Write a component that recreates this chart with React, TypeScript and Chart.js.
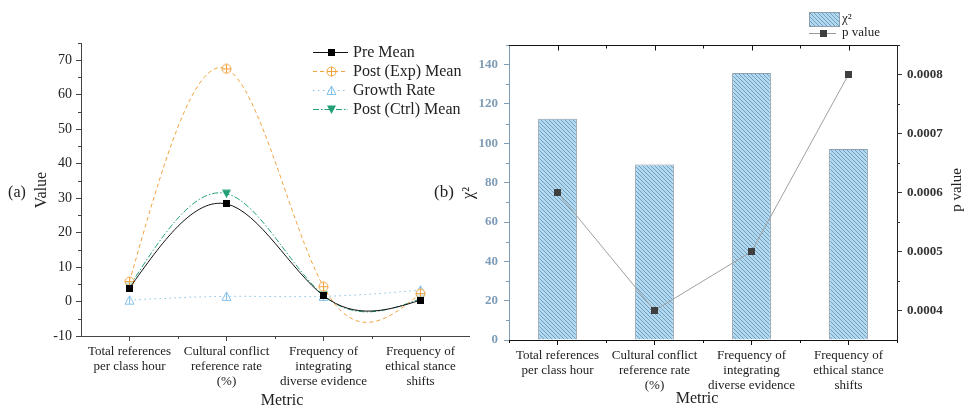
import React, { useEffect, useRef } from 'react';
import { Chart, registerables } from 'chart.js';

Chart.register(...registerables);

// ---------- data ----------
const categories: string[][] = [
  ['Total references', 'per class hour'],
  ['Cultural conflict', 'reference rate', '(%)'],
  ['Frequency of', 'integrating', 'diverse evidence'],
  ['Frequency of', 'ethical stance', 'shifts'],
];
const preMean = [3.9, 28.3, 1.7, 0.4];
const postExpMean = [5.8, 67.5, 4.3, 2.3];
const growthRate = [0.4, 1.5, 1.5, 3.3];
const postCtrlMean = [4.4, 31.3, 1.8, 0.8];

const chiSquare = [112.5, 89.3, 135.8, 97.1];
const pValue = [0.0006, 0.0004, 0.0005, 0.0008];

const valueTicks = [-10, 0, 10, 20, 30, 40, 50, 60, 70];
const valueMinorTicks = [-5, 5, 15, 25, 35, 45, 55, 65, 75];
const chiTicks = [0, 20, 40, 60, 80, 100, 120, 140];
const chiMinorTicks = [10, 30, 50, 70, 90, 110, 130, 150];
const pTicks = [0.0004, 0.0005, 0.0006, 0.0007, 0.0008];
const pMinorTicks = [0.00045, 0.00055, 0.00065, 0.00075, 0.00085];

// ---------- style ----------
const SERIF = '"Liberation Serif", "Times New Roman", serif';
const ORANGE = '#F2A33F';
const LBLUE = '#86C2EA';
const GREEN = '#23A077';
const AXIS_A = '#444';
const TEXT = '#222';
const BLUEGRAY = '#7f9cb6';

function makeCanvas(w: number, h: number, draw: (ctx: CanvasRenderingContext2D) => void) {
  const c = document.createElement('canvas');
  c.width = w;
  c.height = h;
  const ctx = c.getContext('2d')!;
  draw(ctx);
  return c;
}

function makeMarkers() {
  const square = makeCanvas(7, 7, (ctx) => {
    ctx.fillStyle = '#000';
    ctx.fillRect(0, 0, 7, 7);
  });
  const circlePlus = makeCanvas(11, 11, (ctx) => {
    ctx.strokeStyle = ORANGE;
    ctx.lineWidth = 1;
    ctx.fillStyle = 'rgba(255,255,255,0.7)';
    ctx.beginPath();
    ctx.arc(5.5, 5.5, 4.5, 0, Math.PI * 2);
    ctx.fill();
    ctx.stroke();
    ctx.beginPath();
    ctx.moveTo(5.5, 1);
    ctx.lineTo(5.5, 10);
    ctx.moveTo(1, 5.5);
    ctx.lineTo(10, 5.5);
    ctx.stroke();
  });
  const triUp = makeCanvas(11, 11, (ctx) => {
    ctx.strokeStyle = LBLUE;
    ctx.lineWidth = 1;
    ctx.fillStyle = 'rgba(255,255,255,0.7)';
    ctx.beginPath();
    ctx.moveTo(5.5, 1);
    ctx.lineTo(10, 9.5);
    ctx.lineTo(1, 9.5);
    ctx.closePath();
    ctx.fill();
    ctx.stroke();
    ctx.beginPath();
    ctx.moveTo(5.5, 1);
    ctx.lineTo(5.5, 9.5);
    ctx.stroke();
  });
  const triDown = makeCanvas(11, 11, (ctx) => {
    ctx.fillStyle = GREEN;
    ctx.beginPath();
    ctx.moveTo(1, 1.5);
    ctx.lineTo(10, 1.5);
    ctx.lineTo(5.5, 10);
    ctx.closePath();
    ctx.fill();
  });
  const darkSquare = makeCanvas(7, 7, (ctx) => {
    ctx.fillStyle = '#3f3f3f';
    ctx.fillRect(0, 0, 7, 7);
  });
  return { square, circlePlus, triUp, triDown, darkSquare };
}

function makeHatch(ctx: CanvasRenderingContext2D) {
  const c = makeCanvas(4, 4, (g) => {
    g.fillStyle = '#b3d9ef';
    g.fillRect(0, 0, 4, 4);
    g.fillStyle = '#6e9ec3';
    for (let i = 0; i < 4; i++) g.fillRect(i, i, 1, 1);
  });
  return ctx.createPattern(c, 'repeat')!;
}

// natural cubic spline control points, computed from the library's point pixels
const naturalSplinePlugin = {
  id: 'naturalSpline',
  afterDatasetsUpdate(chart: any) {
    chart.data.datasets.forEach((ds: any, di: number) => {
      if (!ds.naturalSpline) return;
      const meta = chart.getDatasetMeta(di);
      const line = meta.dataset;
      if (!line) return;
      line.updateControlPoints(chart.chartArea, 'x');
      const pts = meta.data as any[];
      const n = pts.length;
      if (n < 3) return;
      const xs = pts.map((p) => p.x);
      const ys = pts.map((p) => p.y);
      const h: number[] = [];
      for (let i = 0; i < n - 1; i++) h.push(xs[i + 1] - xs[i]);
      const M = new Array(n).fill(0);
      const m = n - 2;
      const a: number[] = [], b: number[] = [], c: number[] = [], d: number[] = [];
      for (let k = 0; k < m; k++) {
        const i = k + 1;
        a.push(h[i - 1]);
        b.push(2 * (h[i - 1] + h[i]));
        c.push(h[i]);
        d.push(6 * ((ys[i + 1] - ys[i]) / h[i] - (ys[i] - ys[i - 1]) / h[i - 1]));
      }
      for (let k = 1; k < m; k++) {
        const w = a[k] / b[k - 1];
        b[k] -= w * c[k - 1];
        d[k] -= w * d[k - 1];
      }
      const sol = new Array(m);
      sol[m - 1] = d[m - 1] / b[m - 1];
      for (let k = m - 2; k >= 0; k--) sol[k] = (d[k] - c[k] * sol[k + 1]) / b[k];
      for (let k = 0; k < m; k++) M[k + 1] = sol[k];
      const slope = new Array(n);
      for (let i = 0; i < n - 1; i++) slope[i] = (ys[i + 1] - ys[i]) / h[i] - (h[i] * (2 * M[i] + M[i + 1])) / 6;
      slope[n - 1] = (ys[n - 1] - ys[n - 2]) / h[n - 2] + (h[n - 2] * (M[n - 2] + 2 * M[n - 1])) / 6;
      for (let i = 0; i < n; i++) {
        const p = pts[i];
        const hp = i > 0 ? h[i - 1] : 0;
        const hn = i < n - 1 ? h[i] : 0;
        p.cp1x = xs[i] - hp / 3;
        p.cp1y = ys[i] - (slope[i] * hp) / 3;
        p.cp2x = xs[i] + hn / 3;
        p.cp2y = ys[i] + (slope[i] * hn) / 3;
      }
    });
  },
};

function drawText(ctx: CanvasRenderingContext2D, text: string, x: number, y: number, font: string, color: string, rotate = 0, align: CanvasTextAlign = 'center') {
  ctx.save();
  ctx.font = font;
  ctx.fillStyle = color;
  ctx.textAlign = align;
  ctx.textBaseline = 'middle';
  ctx.translate(x, y);
  if (rotate) ctx.rotate(rotate);
  ctx.fillText(text, 0, 0);
  ctx.restore();
}

function minorY(ctx: CanvasRenderingContext2D, scale: any, values: number[], x: number, dir: number, len: number, color: string) {
  ctx.save();
  ctx.strokeStyle = color;
  ctx.lineWidth = 1;
  ctx.beginPath();
  values.forEach((v) => {
    const y = Math.round(scale.getPixelForValue(v)) + 0.5;
    ctx.moveTo(x, y);
    ctx.lineTo(x + dir * len, y);
  });
  ctx.stroke();
  ctx.restore();
}

function minorX(ctx: CanvasRenderingContext2D, scale: any, count: number, area: any, y: number, dir: number, len: number, color: string, includeEnds: boolean) {
  const xs: number[] = [];
  for (let i = 0; i < count - 1; i++) xs.push((scale.getPixelForValue(i) + scale.getPixelForValue(i + 1)) / 2);
  if (includeEnds) {
    xs.push(area.left);
    xs.push(area.right);
  }
  ctx.save();
  ctx.strokeStyle = color;
  ctx.lineWidth = 1;
  ctx.beginPath();
  xs.forEach((x) => {
    const px = Math.round(x) + 0.5;
    ctx.moveTo(px, y);
    ctx.lineTo(px, y + dir * len);
  });
  ctx.stroke();
  ctx.restore();
}

export default function App() {
  const refA = useRef<HTMLCanvasElement>(null);
  const refB = useRef<HTMLCanvasElement>(null);

  useEffect(() => {
    const mk = makeMarkers();
    const ctxB = refB.current!.getContext('2d')!;
    const hatch = makeHatch(ctxB);

    const seriesA = [
      { label: 'Pre Mean', data: preMean, color: '#111', dash: [] as number[], marker: mk.square },
      { label: 'Post (Exp) Mean', data: postExpMean, color: ORANGE, dash: [4, 3], marker: mk.circlePlus },
      { label: 'Growth Rate', data: growthRate, color: LBLUE, dash: [1.5, 3.5], marker: mk.triUp },
      { label: 'Post (Ctrl) Mean', data: postCtrlMean, color: GREEN, dash: [6, 2, 1.5, 2], marker: mk.triDown },
    ];

    const extrasA = {
      id: 'extrasA',
      afterDraw(chart: any) {
        const ctx = chart.ctx as CanvasRenderingContext2D;
        const area = chart.chartArea;
        const y = chart.scales.y;
        const x = chart.scales.x;
        minorY(ctx, y, valueMinorTicks.filter((v) => v <= y.max), area.left, -1, 3, AXIS_A);
        minorX(ctx, x, categories.length, area, area.bottom, 1, 3, AXIS_A, false);
        // legend
        const rows = [52, 71, 90, 109];
        seriesA.forEach((s, i) => {
          const ry = rows[i] + 0.5;
          ctx.save();
          ctx.strokeStyle = s.color;
          ctx.lineWidth = 1;
          ctx.setLineDash(s.dash);
          ctx.beginPath();
          ctx.moveTo(313, ry);
          ctx.lineTo(348, ry);
          ctx.stroke();
          ctx.restore();
          ctx.drawImage(s.marker, Math.round(331 - s.marker.width / 2), Math.round(ry - s.marker.height / 2));
          drawText(ctx, s.label, 353, rows[i] + 1, `16px ${SERIF}`, TEXT, 0, 'left');
        });
        drawText(ctx, '(a)', 17, 193, `16px ${SERIF}`, TEXT);
        drawText(ctx, 'Value', 42, 190, `16px ${SERIF}`, TEXT, -Math.PI / 2);
        drawText(ctx, 'Metric', 282, 401, `16px ${SERIF}`, TEXT);
      },
    };

    const chartA = new Chart(refA.current!, {
      type: 'line',
      data: {
        labels: categories,
        datasets: seriesA.map((s) => ({
          label: s.label,
          data: s.data,
          borderColor: s.color,
          backgroundColor: s.color,
          borderWidth: 1,
          borderDash: s.dash,
          pointStyle: s.marker,
          pointRadius: 4,
          tension: 0.4,
          fill: false,
          naturalSpline: true,
        })) as any,
      },
      options: {
        responsive: false,
        animation: false,
        layout: { padding: { left: 0, right: 13, top: 43, bottom: 0 } },
        plugins: { legend: { display: false }, tooltip: { enabled: false } },
        scales: {
          x: {
            type: 'category',
            offset: true,
            grid: { display: true, drawOnChartArea: false, drawTicks: true, tickLength: 5, offset: false, color: AXIS_A },
            border: { display: true, color: AXIS_A, width: 1 },
            ticks: { font: { family: SERIF, size: 13, lineHeight: 1.15 }, color: TEXT, padding: 3, maxRotation: 0, autoSkip: false },
            afterFit: (s: any) => { s.height = 69; },
          },
          y: {
            min: -10,
            max: 75,
            grid: { display: true, drawOnChartArea: false, drawTicks: true, tickLength: 5, color: AXIS_A },
            border: { display: true, color: AXIS_A, width: 1 },
            ticks: { font: { family: SERIF, size: 14 }, color: TEXT, padding: 4 },
            afterBuildTicks: (s: any) => { s.ticks = valueTicks.map((v) => ({ value: v })); },
            afterFit: (s: any) => { s.width = 81; },
          },
        },
      } as any,
      plugins: [naturalSplinePlugin, extrasA],
    });

    const OX = 425;
    const extrasB = {
      id: 'extrasB',
      afterDraw(chart: any) {
        const ctx = chart.ctx as CanvasRenderingContext2D;
        const area = chart.chartArea;
        const x = chart.scales.x;
        // top axis
        ctx.save();
        ctx.strokeStyle = '#111';
        ctx.lineWidth = 1;
        ctx.beginPath();
        const ty = Math.round(area.top) + 0.5;
        ctx.moveTo(area.left, ty);
        ctx.lineTo(area.right, ty);
        for (let i = 0; i < categories.length; i++) {
          const px = Math.round(x.getPixelForValue(i)) + 0.5;
          ctx.moveTo(px, ty);
          ctx.lineTo(px, ty + 5);
        }
        ctx.stroke();
        ctx.restore();
        minorX(ctx, x, categories.length, area, ty, 1, 3, '#111', false);
        minorX(ctx, x, categories.length, area, area.bottom, 1, 3, '#111', true);
        minorY(ctx, chart.scales.y, chiMinorTicks, area.left, -1, 3, BLUEGRAY);
        minorY(ctx, chart.scales.y1, pMinorTicks, area.right, 1, 3, '#333');
        // legend
        ctx.save();
        ctx.fillStyle = hatch;
        ctx.fillRect(809 - OX, 12, 30, 14);
        ctx.strokeStyle = '#8c9eae';
        ctx.lineWidth = 1;
        ctx.strokeRect(809 - OX + 0.5, 12.5, 30, 14);
        ctx.strokeStyle = '#999';
        ctx.beginPath();
        ctx.moveTo(809 - OX, 33.5);
        ctx.lineTo(836 - OX, 33.5);
        ctx.stroke();
        ctx.restore();
        ctx.drawImage(mk.darkSquare, 823 - OX - 3, 30);
        drawText(ctx, 'χ²', 842 - OX, 19, `13px ${SERIF}`, TEXT, 0, 'left');
        drawText(ctx, 'p value', 842 - OX, 33, `13px ${SERIF}`, TEXT, 0, 'left');
        // titles
        drawText(ctx, '(b)', 444 - OX, 193, `17px ${SERIF}`, TEXT);
        drawText(ctx, 'χ²', 469 - OX, 193, `16px ${SERIF}`, TEXT, -Math.PI / 2);
        drawText(ctx, 'p value', 957 - OX, 190, `15px ${SERIF}`, TEXT, -Math.PI / 2);
        drawText(ctx, 'Metric', 697 - OX, 399, `16px ${SERIF}`, TEXT);
      },
    };

    const chartB = new Chart(refB.current!, {
      type: 'bar',
      data: {
        labels: categories,
        datasets: [
          {
            type: 'line',
            label: 'p value',
            data: pValue,
            yAxisID: 'y1',
            borderColor: '#a0a0a0',
            backgroundColor: '#3f3f3f',
            borderWidth: 1,
            pointStyle: mk.darkSquare,
            pointRadius: 4,
            tension: 0,
            order: 0,
          },
          {
            type: 'bar',
            label: 'χ²',
            data: chiSquare,
            yAxisID: 'y',
            backgroundColor: hatch,
            borderColor: '#8c9eae',
            borderWidth: 1,
            barPercentage: 0.4,
            categoryPercentage: 1.0,
            order: 1,
          },
        ] as any,
      },
      options: {
        responsive: false,
        animation: false,
        layout: { padding: { left: 0, right: 0, top: 45, bottom: 0 } },
        plugins: { legend: { display: false }, tooltip: { enabled: false } },
        scales: {
          x: {
            type: 'category',
            offset: true,
            grid: { display: true, drawOnChartArea: false, drawTicks: true, tickLength: 5, offset: false, color: '#111' },
            border: { display: true, color: '#111', width: 1 },
            ticks: { font: { family: SERIF, size: 13, lineHeight: 1.15 }, color: TEXT, padding: 3, maxRotation: 0, autoSkip: false },
            afterFit: (s: any) => { s.height = 65; },
          },
          y: {
            position: 'left',
            min: 0,
            max: 150,
            grid: { display: true, drawOnChartArea: false, drawTicks: true, tickLength: 5, color: BLUEGRAY },
            border: { display: true, color: BLUEGRAY, width: 1 },
            ticks: { font: { family: SERIF, size: 13, weight: 'bold' }, color: BLUEGRAY, padding: 6 },
            afterBuildTicks: (s: any) => { s.ticks = chiTicks.map((v) => ({ value: v })); },
            afterFit: (s: any) => { s.width = 84; },
          },
          y1: {
            position: 'right',
            min: 0.00035,
            max: 0.00085,
            grid: { display: true, drawOnChartArea: false, drawTicks: true, tickLength: 5, color: '#333' },
            border: { display: true, color: '#222', width: 1 },
            ticks: { font: { family: SERIF, size: 13, weight: 'bold' }, color: '#333', padding: 5, callback: (v: any) => Number(v).toFixed(4) },
            afterBuildTicks: (s: any) => { s.ticks = pTicks.map((v) => ({ value: v })); },
            afterFit: (s: any) => { s.width = 68; },
          },
        },
      } as any,
      plugins: [extrasB],
    });

    return () => {
      chartA.destroy();
      chartB.destroy();
    };
  }, []);

  return (
    <div style={{ position: 'fixed', left: 0, top: 0, width: 965, height: 405, background: '#fff', overflow: 'hidden' }}>
      <canvas ref={refA} width={482} height={405} style={{ position: 'absolute', left: 0, top: 0, width: 482, height: 405, display: 'block' }} />
      <canvas ref={refB} width={540} height={405} style={{ position: 'absolute', left: 425, top: 0, width: 540, height: 405, display: 'block' }} />
    </div>
  );
}
